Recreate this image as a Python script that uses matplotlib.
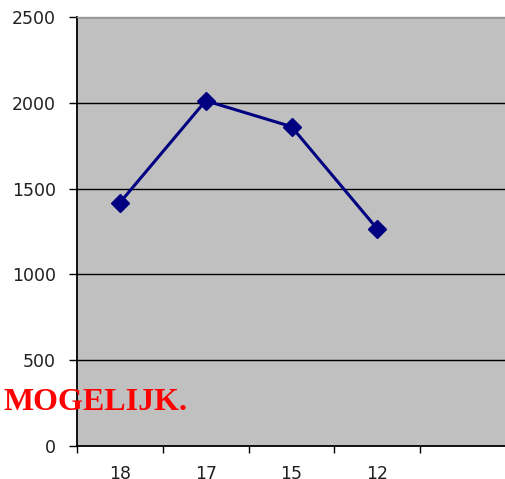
import matplotlib
matplotlib.use("Agg")
import matplotlib.pyplot as plt
import numpy as np

categories = ["18", "17", "15", "12", ""]
values = [1418, 2012, 1861, 1265]
yticks = [0, 500, 1000, 1500, 2000, 2500]

W, H = 505, 479
fig = plt.figure(figsize=(W / 100, H / 100), dpi=100)
left, right, bottom, top = 77, 506, 446, 17
ax = fig.add_axes([left / W, (H - bottom) / H, (right - left) / W, (bottom - top) / H])
ax.set_facecolor("#C0C0C0")

x = np.arange(len(values)) + 0.5
ax.plot(x, values, color="#000080", lw=2.2, marker="D", markersize=9.5, zorder=3)

ax.set_xlim(0, len(categories))
ax.set_ylim(0, 2500)
ax.set_yticks(yticks)
ax.set_yticklabels([str(v) for v in yticks], fontsize=12.5, family="DejaVu Sans", color="#202020")
for v in yticks[1:]:
    ax.axhline(v, color="black", lw=1.0, zorder=1)

ax.set_xticks(np.arange(len(categories)) + 0.5)
ax.set_xticklabels(categories, fontsize=12.5, family="DejaVu Sans", color="#202020")
ax.set_xticks(np.arange(len(categories) + 1), minor=True)
ax.tick_params(axis="x", which="major", length=0, pad=14)
ax.tick_params(axis="x", which="minor", length=5, width=1, direction="out", color="black")
ax.tick_params(axis="y", length=6, width=1, direction="out", pad=9, color="black")

ax.spines["left"].set_color("black")
ax.spines["bottom"].set_color("black")
ax.spines["left"].set_linewidth(1.3)
ax.spines["bottom"].set_linewidth(1.3)
ax.spines["top"].set_color("#999999")
ax.spines["top"].set_linewidth(1.0)
ax.spines["right"].set_visible(False)

fig.text(3 / W, (H - 410) / H, "MOGELIJK.", color="red", fontsize=23,
         fontweight="bold", family="Liberation Serif", ha="left", va="baseline", zorder=10)

fig.savefig("out.png", dpi=100)
